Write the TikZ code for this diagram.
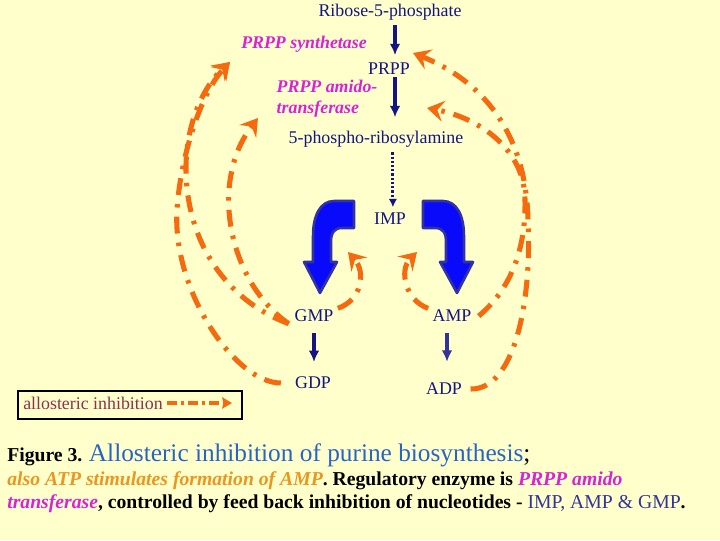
\documentclass[tikz,border=0pt]{standalone}
\usepackage{fontspec}
\setmainfont{Liberation Serif}
\usetikzlibrary{arrows.meta}
\definecolor{paper}{RGB}{255,255,204}
\definecolor{pathnavy}{RGB}{20,20,130}
\definecolor{adpnavy}{RGB}{51,51,153}
\definecolor{enzmag}{RGB}{215,35,215}
\definecolor{inhorange}{RGB}{245,105,15}
\definecolor{blockblue}{RGB}{10,10,250}
\definecolor{blockedge}{RGB}{50,50,160}
\definecolor{legmaroon}{RGB}{140,50,80}
\definecolor{capblue}{RGB}{40,100,200}
\definecolor{capgold}{RGB}{235,150,30}
\tikzset{
  metab/.style={text=pathnavy, inner sep=1pt, font=\fontsize{12.7}{15}\selectfont},
  enzyme/.style={text=enzmag, inner sep=1pt, font=\fontsize{12.7}{15}\selectfont\bfseries\itshape},
  flow/.style={draw=pathnavy, line width=2.2pt, -{Latex[length=8pt,width=7.5pt]}},
  inhib/.style={draw=inhorange, line width=3.6pt, dash pattern=on 12pt off 6.5pt on 2.5pt off 6.5pt,
    -{Stealth[length=12pt,width=15pt,inset=4.5pt]}},
  blockarrow/.style={fill=blockblue, draw=blockedge, line width=1.8pt, line join=round},
  caption/.style={anchor=base west, inner sep=0pt, font=\fontsize{14}{16}\selectfont\bfseries}
}
\begin{document}
\begin{tikzpicture}[x=0.025cm, y=-0.025cm]
  \useasboundingbox (0,0) rectangle (720,540);
  \fill[paper] (0,0) rectangle (720,540);

  % pathway
  \node[metab] (rib) at (390,12) {Ribose-5-phosphate};
  \node[enzyme] (synth) at (304,44) {PRPP synthetase};
  \node[metab] (prpp) at (389,69) {PRPP};
  \node[enzyme, align=left, anchor=west] (amido) at (275,99) {PRPP amido-\\transferase};
  \node[metab] (pra) at (376,139) {5-phospho-ribosylamine};
  \node[metab] (imp) at (390,219) {IMP};
  \node[metab] (gmp) at (314,316) {GMP};
  \node[metab] (amp) at (452,316) {AMP};
  \node[metab] (gdp) at (313,383) {GDP};
  \node[metab] (adp) at (444,389) {ADP};

  \coordinate (axis) at (395,0);
  \draw[flow, shorten <=2.5pt, shorten >=4.5pt] (rib.south -| axis) -- (prpp.north -| axis);
  \draw[flow, shorten >=8.5pt] (prpp.south -| axis) -- (pra.north -| axis);
  \draw[flow, dash pattern=on 1.6pt off 1.4pt, shorten <=2.5pt, shorten >=3pt,
    -{Latex[length=6pt,width=6pt]}] ([xshift=-1.5pt]pra.south -| axis) -- ([xshift=-1.5pt]imp.north -| axis);
  \draw[flow, shorten <=6.5pt, shorten >=9.5pt] (gmp.south) -- (gmp.south |- gdp.north);
  \draw[flow, adpnavy, shorten <=6.5pt, shorten >=14pt] (amp.south -| 447,0) -- (adp.north -| 447,0);

  % IMP -> GMP and IMP -> AMP
  \draw[blockarrow] (354,201) -- (334,201) .. controls (320,201) and (313,216) .. (313,236)
    -- (313,262) -- (304,262) -- (320,293) -- (337,262) -- (331,262) -- (331,242)
    .. controls (331,233) and (334,228) .. (342,228) -- (354,228) -- cycle;
  \draw[blockarrow] (423,201) -- (443,201) .. controls (457,201) and (464,216) .. (464,236)
    -- (464,262) -- (473,262) -- (457,293) -- (440,262) -- (446,262) -- (446,242)
    .. controls (446,233) and (443,228) .. (435,228) -- (423,228) -- cycle;

  % feedback
  \coordinate (synthtip) at (230,62);
  \coordinate (amidotip) at (258,118);
  \coordinate (synthtipR) at (413,53);
  \coordinate (amidotipR) at (427,108);
  \coordinate (gmptip) at (348,252);
  \coordinate (amptip) at (417,252);
  \draw[inhib] ([xshift=-9pt]gdp.west) .. controls (235,383) and (172,290) .. (177,210)
    .. controls (180,160) and (200,94) .. (synthtip);
  \draw[inhib] ([xshift=-3pt]gmp.south west) .. controls (225,300) and (185,240) .. (186,165)
    .. controls (187,120) and (205,85) .. (synthtip);
  \draw[inhib] ([xshift=-3pt]gmp.south west) .. controls (240,290) and (220,220) .. (232,170)
    .. controls (236,150) and (245,135) .. (amidotip);
  \draw[inhib] ([xshift=5pt]adp.east) .. controls (515,390) and (532,300) .. (528,220)
    .. controls (526,130) and (480,80) .. (synthtipR);
  \draw[inhib] ([xshift=4pt]amp.east) .. controls (510,290) and (526,250) .. (525,200)
    .. controls (525,150) and (480,118) .. (amidotipR);
  \draw[inhib] ([xshift=2pt]gmp.north east) .. controls (362,300) and (366,272) .. (gmptip);
  \draw[inhib] ([xshift=-2pt]amp.north west) .. controls (405,300) and (399,270) .. (amptip);

  % key
  \node[anchor=west, inner sep=0pt, text=legmaroon, font=\fontsize{12.7}{15}\selectfont] (legtext) at (23,403) {allosteric inhibition};
  \coordinate (legtip) at (232,403);
  \draw[inhib, line width=2.8pt, dash pattern=on 7pt off 3pt on 2pt off 3pt,
    -{Stealth[length=7pt,width=8pt,inset=1pt]}] ([xshift=3pt]legtext.east) -- (legtip);
  \draw[line width=0.8pt] (18,391) rectangle (242,419);

  % caption
  \node[caption] (cap1) at (7,461) {Figure 3. {\mdseries\fontsize{18}{20}\selectfont\color{capblue}Allosteric inhibition of purine biosynthesis}{\mdseries\fontsize{18}{20}\selectfont;}};
  \node[caption] (cap2) at (7,485) {{\itshape\color{capgold}also ATP stimulates formation of AMP}. Regulatory enzyme is {\itshape\color{enzmag}PRPP amido}};
  \node[caption] (cap3) at (7,508) {{\itshape\color{enzmag}transferase}, controlled by feed back inhibition of nucleotides - {\mdseries\color{adpnavy}IMP, AMP \& GMP}.};
\end{tikzpicture}
\end{document}
